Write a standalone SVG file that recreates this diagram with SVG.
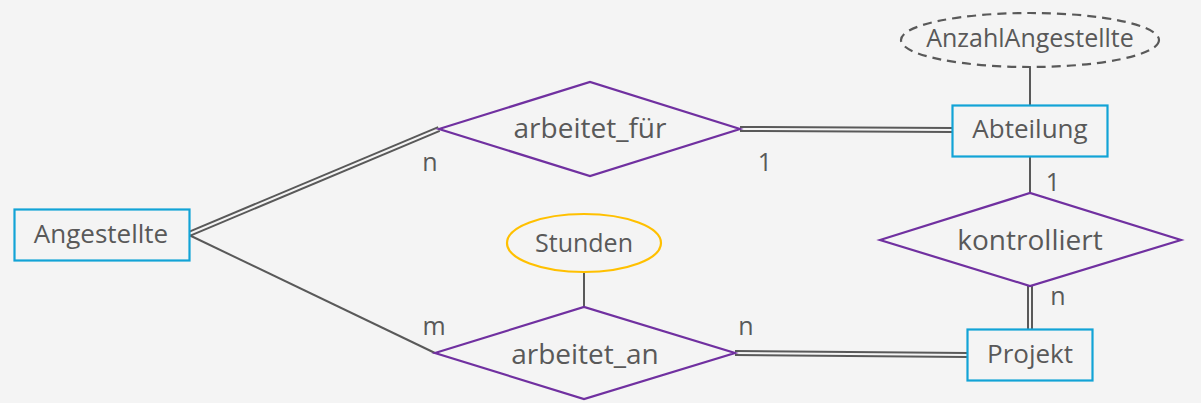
<svg xmlns="http://www.w3.org/2000/svg" width="1201" height="403" viewBox="0 0 1201 403">
  <style>
    .entity { fill: #f4f4f4; stroke: #12a3d6; stroke-width: 2.2; }
    .relation { fill: #f4f4f4; stroke: #7030a0; stroke-width: 2.2; }
    .attr { fill: #f4f4f4; stroke: #ffc000; stroke-width: 2.2; }
    .attr-derived { fill: #f4f4f4; stroke: #595959; stroke-width: 2.2; stroke-dasharray: 9 6; }
    .line { fill: none; stroke: #595959; stroke-width: 2; }
    .dbl-outer { fill: none; stroke: #595959; stroke-width: 6; }
    .dbl-inner { fill: none; stroke: #f4f4f4; stroke-width: 2; }
    text { font-family: "Open Sans", "DejaVu Sans", sans-serif; font-size: 26px; fill: #595959; text-anchor: middle; }
    .t-rel { font-size: 28px; }
    .t-attr { font-size: 25px; }
    .card { font-size: 25px; }
  </style>
  <rect width="1201" height="403" fill="#f4f4f4"/>

  <!-- connectors -->
  <g id="connectors">
    <!-- Angestellte = arbeitet_für (total participation) -->
    <line class="dbl-outer" x1="189" y1="234" x2="439" y2="129"/>
    <line class="dbl-inner" x1="189" y1="234" x2="439" y2="129"/>
    <!-- arbeitet_für = Abteilung -->
    <line class="dbl-outer" x1="740" y1="129" x2="952" y2="130"/>
    <line class="dbl-inner" x1="740" y1="129" x2="952" y2="130"/>
    <!-- Angestellte - arbeitet_an -->
    <line class="line" x1="189" y1="235" x2="435" y2="353"/>
    <!-- arbeitet_an = Projekt -->
    <line class="dbl-outer" x1="735" y1="353" x2="967" y2="355"/>
    <line class="dbl-inner" x1="735" y1="353" x2="967" y2="355"/>
    <!-- Abteilung - kontrolliert -->
    <line class="line" x1="1030" y1="157" x2="1030" y2="193"/>
    <!-- kontrolliert = Projekt -->
    <line class="dbl-outer" x1="1030" y1="286" x2="1030" y2="329"/>
    <line class="dbl-inner" x1="1030" y1="286" x2="1030" y2="329"/>
    <!-- attributes -->
    <line class="line" x1="1030" y1="67" x2="1030" y2="105"/>
    <line class="line" x1="584" y1="272" x2="584" y2="307"/>
  </g>

  <!-- cardinalities -->
  <g id="cardinalities">
    <text class="card" x="430" y="171">n</text>
    <text class="card" x="765" y="171">1</text>
    <text class="card" x="434" y="335">m</text>
    <text class="card" x="746" y="335">n</text>
    <text class="card" x="1053" y="191">1</text>
    <text class="card" x="1058" y="305">n</text>
  </g>

  <g id="Angestellte">
    <rect class="entity" x="14.5" y="209.5" width="175" height="51"/>
    <text x="101" y="243">Angestellte</text>
  </g>

  <g id="arbeitet_fuer">
    <polygon class="relation" points="439,129 590,82 740,129 590,176"/>
    <text class="t-rel" x="590" y="138">arbeitet_für</text>
  </g>

  <g id="Abteilung">
    <rect class="entity" x="952.5" y="105.5" width="155" height="51"/>
    <text x="1030" y="138">Abteilung</text>
  </g>

  <g id="AnzahlAngestellte">
    <ellipse class="attr-derived" cx="1030" cy="40" rx="129" ry="27"/>
    <text class="t-attr" x="1030" y="47">AnzahlAngestellte</text>
  </g>

  <g id="kontrolliert">
    <polygon class="relation" points="880,240 1030,193 1181,240 1030,286"/>
    <text class="t-rel" x="1030" y="250">kontrolliert</text>
  </g>

  <g id="Projekt">
    <rect class="entity" x="967.5" y="329.5" width="125" height="51"/>
    <text x="1030" y="363">Projekt</text>
  </g>

  <g id="arbeitet_an">
    <polygon class="relation" points="435,353 584,307 735,353 584,399"/>
    <text class="t-rel" x="585" y="364">arbeitet_an</text>
  </g>

  <g id="Stunden">
    <ellipse class="attr" cx="584" cy="243" rx="77" ry="29"/>
    <text class="t-attr" x="584" y="252">Stunden</text>
  </g>
</svg>
